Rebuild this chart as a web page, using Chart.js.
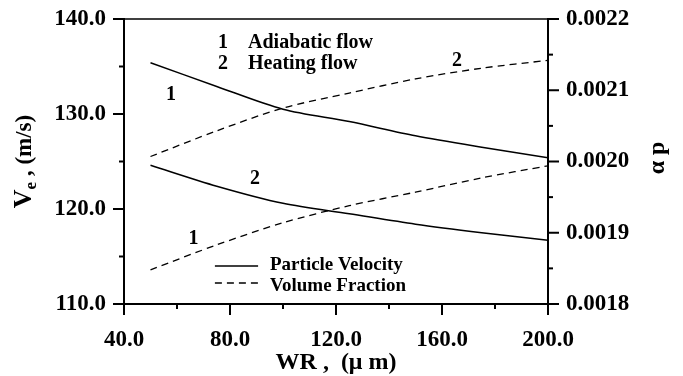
<!DOCTYPE html>
<html><head><meta charset="utf-8">
<script src="https://cdn.jsdelivr.net/npm/chart.js@4/dist/chart.umd.min.js"></script>
<style>html,body{margin:0;padding:0;background:#fff}#wrap{width:683px;height:376px;position:relative}</style>
</head><body><div id="wrap"><canvas id="c" width="683" height="376"></canvas></div>
<script>
// ---- data ----
const wr = [50, 75, 100, 125, 150, 175, 200];                 // WR (μm)
const velAdiabatic = [135.4, 132.9, 130.5, 129.2, 127.7, 126.5, 125.4];
const velHeating   = [124.6, 122.4, 120.6, 119.5, 118.4, 117.5, 116.7];
const fracAdiabatic = [0.001848, 0.001883, 0.001914, 0.001938, 0.001957, 0.001977, 0.001994];
const fracHeating   = [0.002007, 0.002043, 0.002075, 0.002096, 0.002116, 0.002131, 0.002142];
const xTicks = [40, 80, 120, 160, 200];
const yLeftTicks = [110, 120, 130, 140];
const yRightTicks = [0.0018, 0.0019, 0.0020, 0.0021, 0.0022];
const curveLabels = [
  {text: '1', x: 57.7, y: 131.5},
  {text: '1', x: 66.2, y: 116.3},
  {text: '2', x: 89.4, y: 122.6},
  {text: '2', x: 165.7, y: 135.05}
];
const caseKey = [
  {num: '1', text: 'Adiabatic flow', y: 136.95},
  {num: '2', text: 'Heating flow', y: 134.75}
];
const legendItems = [
  {text: 'Particle Velocity', dash: [], y: 114.0, ty: 113.6},
  {text: 'Volume Fraction', dash: [7, 5], y: 112.2, ty: 111.35}
];

const FONT = '"Liberation Serif", "Times New Roman", serif';
const pts = (xs, ys) => xs.map((v, i) => ({x: v, y: ys[i]}));

const deco = {
  id: 'deco',
  afterDraw(chart) {
    const ctx = chart.ctx, a = chart.chartArea;
    const sx = chart.scales.x, yl = chart.scales.y, yr = chart.scales.y1;
    const ln = (x1, y1, x2, y2) => { ctx.beginPath(); ctx.moveTo(x1, y1); ctx.lineTo(x2, y2); ctx.stroke(); };
    ctx.save();
    ctx.strokeStyle = '#000'; ctx.fillStyle = '#000';
    ctx.lineWidth = 1.5;
    ln(a.left - 1, a.top, a.right + 1, a.top);
    ctx.lineWidth = 2;
    // x ticks
    xTicks.forEach((v, i) => {
      const p = sx.getPixelForValue(v); ln(p, a.bottom, p, a.bottom + 11);
      if (i < xTicks.length - 1) { const m = sx.getPixelForValue((v + xTicks[i + 1]) / 2); ln(m, a.bottom, m, a.bottom + 5); }
    });
    yLeftTicks.forEach((v, i) => {
      const p = yl.getPixelForValue(v); ln(a.left, p, a.left - 11, p);
      if (i < yLeftTicks.length - 1) { const m = yl.getPixelForValue((v + yLeftTicks[i + 1]) / 2); ln(a.left, m, a.left - 5, m); }
    });
    yRightTicks.forEach((v, i) => {
      const p = yr.getPixelForValue(v); ln(a.right, p, a.right + 11, p);
      if (i < yRightTicks.length - 1) { const m = yr.getPixelForValue((v + yRightTicks[i + 1]) / 2); ln(a.right, m, a.right + 5, m); }
    });
    // curve labels
    ctx.font = 'bold 20px ' + FONT; ctx.textBaseline = 'alphabetic';
    ctx.textAlign = 'center';
    curveLabels.forEach(l => ctx.fillText(l.text, sx.getPixelForValue(l.x), yl.getPixelForValue(l.y)));
    // case key
    caseKey.forEach(k => {
      const by = yl.getPixelForValue(k.y);
      ctx.textAlign = 'center'; ctx.fillText(k.num, sx.getPixelForValue(77.4), by);
      ctx.textAlign = 'left'; ctx.fillText(k.text, sx.getPixelForValue(86.8), by);
    });
    // legend
    ctx.font = 'bold 19px ' + FONT;
    legendItems.forEach(l => {
      ctx.lineWidth = 1.5; ctx.setLineDash(l.dash);
      const ly = yl.getPixelForValue(l.y);
      ln(sx.getPixelForValue(74.3), ly, sx.getPixelForValue(90.6), ly);
      ctx.setLineDash([]);
      ctx.textAlign = 'left'; ctx.fillText(l.text, sx.getPixelForValue(95.1), yl.getPixelForValue(l.ty));
    });
    // axis titles
    const cy = (a.top + a.bottom) / 2;
    // bottom
    ctx.font = 'bold 24px ' + FONT; ctx.textAlign = 'center';
    ctx.fillText('WR ,  (\u03BC m)', (a.left + a.right) / 2, 369);
    // left (rotated)
    ctx.save();
    ctx.translate(31, cy); ctx.rotate(-Math.PI / 2);
    const fBig = 'bold 26px ' + FONT, fSub = 'bold 17px ' + FONT, fRest = 'bold 23px ' + FONT;
    ctx.font = fBig; const wV = ctx.measureText('V').width;
    ctx.font = fSub; const wE = ctx.measureText('e').width;
    ctx.font = fRest; const wR = ctx.measureText(' , (m/s)').width;
    let sxp = -(wV + wE + wR) / 2;
    ctx.textAlign = 'left';
    ctx.font = fBig; ctx.fillText('V', sxp, 0); sxp += wV;
    ctx.font = fSub; ctx.fillText('e', sxp, 5); sxp += wE;
    ctx.font = fRest; ctx.fillText(' , (m/s)', sxp, 0);
    ctx.restore();
    // right (rotated)
    ctx.save();
    ctx.translate(664, 158); ctx.rotate(-Math.PI / 2);
    ctx.font = 'bold 24px ' + FONT; ctx.textAlign = 'center';
    ctx.fillText('\u03B1 p', 0, 0);
    ctx.restore();
    ctx.restore();
  }
};

const tickFont = {family: FONT, size: 23, weight: 'bold'};
const noPad = s => { s.paddingTop = 0; s.paddingBottom = 0; s.paddingLeft = 0; s.paddingRight = 0; };
new Chart(document.getElementById('c'), {
  type: 'line',
  data: {
    datasets: [
      {label: 'Particle Velocity (adiabatic)', data: pts(wr, velAdiabatic), yAxisID: 'y', borderColor: '#000', borderWidth: 1.5, pointRadius: 0, tension: 0.3, fill: false},
      {label: 'Particle Velocity (heating)', data: pts(wr, velHeating), yAxisID: 'y', borderColor: '#000', borderWidth: 1.5, pointRadius: 0, tension: 0.3, fill: false},
      {label: 'Volume Fraction (adiabatic)', data: pts(wr, fracAdiabatic), yAxisID: 'y1', borderColor: '#000', borderWidth: 1.3, borderDash: [7, 5], pointRadius: 0, tension: 0.3, fill: false},
      {label: 'Volume Fraction (heating)', data: pts(wr, fracHeating), yAxisID: 'y1', borderColor: '#000', borderWidth: 1.3, borderDash: [7, 5], pointRadius: 0, tension: 0.3, fill: false}
    ]
  },
  options: {
    responsive: false, animation: false, devicePixelRatio: 1,
    layout: {padding: {top: 19, left: 0, right: 0, bottom: 0}},
    plugins: {legend: {display: false}, tooltip: {enabled: false}},
    scales: {
      x: {
        type: 'linear', min: 40, max: 200, position: 'bottom',
        afterBuildTicks: s => { s.ticks = xTicks.map(v => ({value: v})); },
        afterFit: s => { s.height = 72; noPad(s); },
        grid: {display: false, drawTicks: false}, border: {display: true, color: '#000', width: 2},
        ticks: {font: tickFont, color: '#000', padding: 22, maxRotation: 0, callback: v => Number(v).toFixed(1)}
      },
      y: {
        type: 'linear', min: 110, max: 140, position: 'left',
        afterBuildTicks: s => { s.ticks = yLeftTicks.map(v => ({value: v})); },
        afterFit: s => { s.width = 124; noPad(s); },
        grid: {display: false, drawTicks: false}, border: {display: true, color: '#000', width: 2},
        ticks: {font: tickFont, color: '#000', padding: 18, callback: v => Number(v).toFixed(1)}
      },
      y1: {
        type: 'linear', min: 0.0018, max: 0.0022, position: 'right',
        afterBuildTicks: s => { s.ticks = yRightTicks.map(v => ({value: v})); },
        afterFit: s => { s.width = 135; noPad(s); },
        grid: {display: false, drawTicks: false}, border: {display: true, color: '#000', width: 2},
        ticks: {font: tickFont, color: '#000', padding: 18, callback: v => Number(v).toFixed(4)}
      }
    }
  },
  plugins: [deco]
});
</script></body></html>
